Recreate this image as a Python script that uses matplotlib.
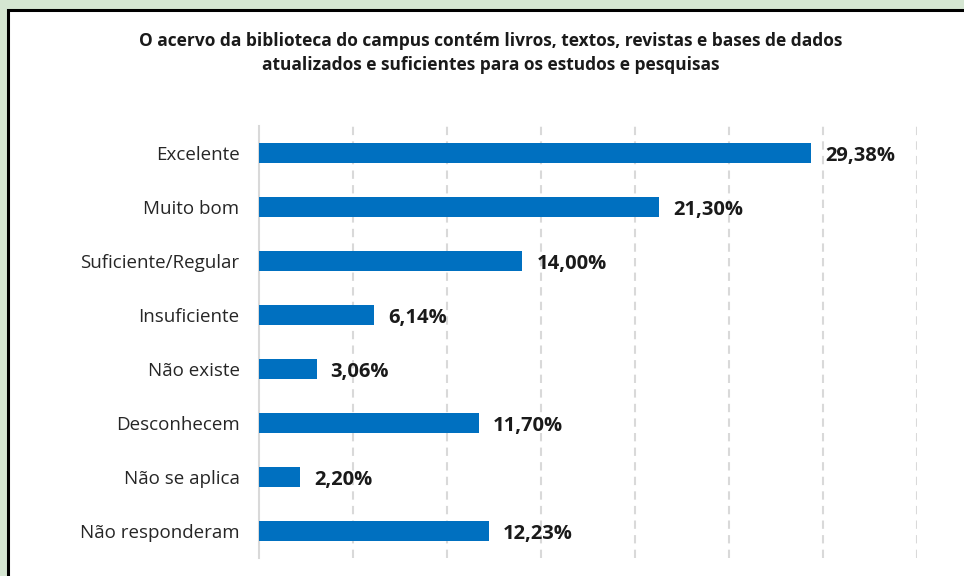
import numpy as np
import matplotlib.pyplot as plt
from matplotlib.patches import Rectangle

categories = ['Excelente', 'Muito bom', 'Suficiente/Regular', 'Insuficiente',
              'Não existe', 'Desconhecem', 'Não se aplica', 'Não responderam']
values = [29.38, 21.30, 14.00, 6.14, 3.06, 11.70, 2.20, 12.23]
title = ('O acervo da biblioteca do campus contém livros, textos, revistas e bases de dados\n'
         'atualizados e suficientes para os estudos e pesquisas')

plt.rcParams['font.family'] = ['Open Sans', 'DejaVu Sans']

W, H = 964, 576
fig = plt.figure(figsize=(W / 100, H / 100), dpi=100, facecolor='#D5E6D2')

# white panel with black border on top/left
fig.patches.append(Rectangle((8 / W, -0.1), 1.1, 1.1 - 10 / H, transform=fig.transFigure,
                             facecolor='white', edgecolor='black', linewidth=2.2, zorder=-5))

ax = fig.add_axes([259 / W, 1 - 558 / H, (917 - 259) / W, (558 - 126) / H])
ax.set_facecolor('none')

y = np.arange(len(categories))
ax.barh(y, values, height=0.36, color='#0070C0', zorder=3)
for yi, v in zip(y, values):
    ax.text(v + 0.75, yi + 0.05, f'{v:.2f}%'.replace('.', ','), va='center', ha='left',
            fontsize=14.5, fontweight='bold', color='#1a1a1a')

ax.set_xlim(0, 35)
ax.set_ylim(len(categories) - 0.5, -0.5)
ax.set_xticks(np.arange(5, 36, 5))
ax.xaxis.grid(True, color='#D9D9D9', linestyle=(0, (4, 3)), linewidth=1.5, zorder=0)
ax.tick_params(axis='x', length=0, labelbottom=False)
ax.tick_params(axis='y', length=0, pad=14)
ax.set_yticks(y)
ax.set_yticklabels(categories, fontsize=13.5, color='#262626')
for s in ['top', 'right', 'bottom']:
    ax.spines[s].set_visible(False)
ax.spines['left'].set_color('#D9D9D9')
ax.spines['left'].set_linewidth(1.5)

fig.text(491 / W, 1 - 53 / H, title, ha='center', va='center', fontsize=12.5,
         fontweight='bold', color='#1a1a1a', linespacing=1.4)

fig.savefig('out.png', dpi=100, facecolor=fig.get_facecolor())
